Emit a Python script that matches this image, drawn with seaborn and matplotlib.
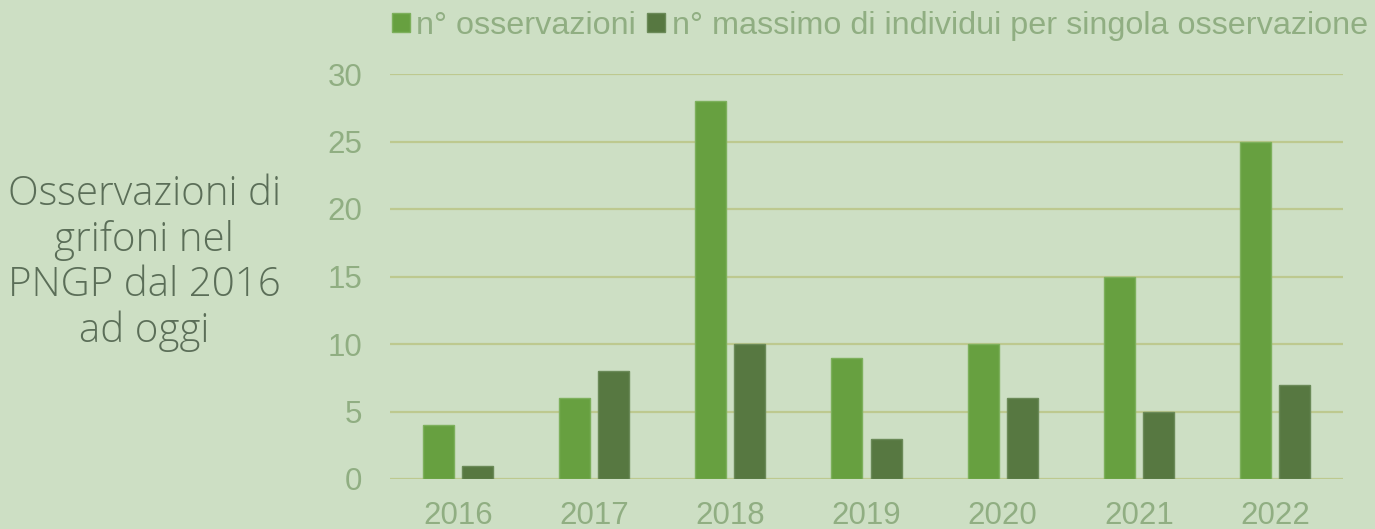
import matplotlib
matplotlib.use("Agg")
import matplotlib.pyplot as plt
import seaborn as sns
import pandas as pd
from matplotlib.patches import Patch

years = ["2016", "2017", "2018", "2019", "2020", "2021", "2022"]
osservazioni = [4, 6, 28, 9, 10, 15, 25]
massimo_individui = [1, 8, 10, 3, 6, 5, 7]
series_names = ["n° osservazioni", "n° massimo di individui per singola osservazione"]
y_ticks = [0, 5, 10, 15, 20, 25, 30]

bg = "#CDDFC4"
bar_colors = ["#67A040", "#577841"]
edge_colors = ["#7DB05C", "#6B8A58"]
grid_color = "#BDC98F"
tick_color = "#90AE82"
title_color = "#5B6E58"

df = pd.DataFrame({
    "anno": years * 2,
    "valore": osservazioni + massimo_individui,
    "serie": [series_names[0]] * len(years) + [series_names[1]] * len(years),
})

sns.set_theme(style="white")
plt.rcParams["font.family"] = ["Liberation Sans", "DejaVu Sans"]

fig = plt.figure(figsize=(13.75, 5.29), dpi=100, facecolor=bg)
ax = fig.add_axes([390 / 1375, 1 - 479 / 529, 953 / 1375, 405 / 529])
ax.set_facecolor(bg)

sns.barplot(data=df, x="anno", y="valore", hue="serie", palette=bar_colors,
            width=0.574, gap=0.205, ax=ax, legend=False, saturation=1)

# outline each bar in a lighter tint of its fill
n = len(years)
for i, patch in enumerate(ax.patches[:2 * n]):
    patch.set_edgecolor(edge_colors[i // n])
    patch.set_linewidth(1.0)

ax.set_ylim(0, 30)
ax.set_xlim(-0.5, n - 0.5)
ax.set_yticks(y_ticks)
ax.set_yticklabels([str(t) for t in y_ticks])
ax.set_xlabel("")
ax.set_ylabel("")
for s in ax.spines.values():
    s.set_visible(False)
ax.yaxis.grid(True, color=grid_color, linewidth=1.6)
ax.set_axisbelow(True)
ax.tick_params(axis="both", length=0, labelsize=22.5, colors=tick_color)
ax.tick_params(axis="y", pad=20)
ax.tick_params(axis="x", pad=16)

# legend with square swatches above the plot
handles = [Patch(facecolor=bar_colors[k], edgecolor=edge_colors[k], label=series_names[k]) for k in range(2)]
leg = fig.legend(handles=handles, loc="center", bbox_to_anchor=(880 / 1375, 1 - 26 / 529),
                 ncol=2, frameon=False, fontsize=23.3, handlelength=0.55, handleheight=0.55,
                 handletextpad=0.2, columnspacing=0.35, borderaxespad=0)
for t in leg.get_texts():
    t.set_color(tick_color)

fig.text(144 / 1375, 1 - 263 / 529, "Osservazioni di\ngrifoni nel\nPNGP dal 2016\nad oggi",
         ha="center", va="center", fontsize=29, color=title_color, fontweight=300,
         family=["Open Sans", "DejaVu Sans"], linespacing=1.14)

fig.savefig("out.png", dpi=100, facecolor=bg)
